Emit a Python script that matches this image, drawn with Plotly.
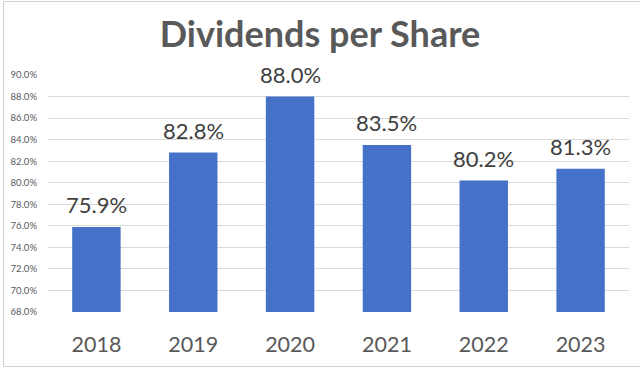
import plotly.graph_objects as go

years = ["2018", "2019", "2020", "2021", "2022", "2023"]
payout = [75.9, 82.8, 88.0, 83.5, 80.2, 81.3]
y_ticks = [68, 70, 72, 74, 76, 78, 80, 82, 84, 86, 88, 90]
title_text = "Dividends per Share"

W, H = 640, 371
L, R, T, B = 46, 11, 75, 59

fig = go.Figure()
fig.add_trace(go.Bar(
    x=years, y=payout,
    marker=dict(color="#4571C8", line=dict(width=0)),
    width=0.5,
    hoverinfo="x+y",
))

# data labels above each bar (x given as category index)
for i, v in enumerate(payout):
    fig.add_annotation(x=i, y=v, text=f"{v:.1f}%", showarrow=False,
                       xanchor="center", yanchor="bottom", yshift=7,
                       font=dict(family="Lato", size=22, color="#404040"))

pw = W - L - R
ph = H - T - B
def px_x(p):
    return (p - L) / pw
def px_y(p):
    return (H - B - p) / ph

fig.update_layout(
    width=W, height=H,
    margin=dict(l=L, r=R, t=T, b=B, pad=0),
    paper_bgcolor="white", plot_bgcolor="white",
    showlegend=False,
    bargap=0.5,
    title=dict(text=f"<b>{title_text}</b>", x=0.5, xanchor="center",
               xref="container", y=1 - 34 / H, yanchor="middle", yref="container",
               font=dict(family="Lato", size=36, color="#595959")),
    xaxis=dict(type="category", range=[-0.5, len(years) - 0.5],
               showgrid=False, showline=False, ticks="",
               tickfont=dict(family="Lato", size=21.5, color="#595959"),
               ticklabelstandoff=17),
    yaxis=dict(range=[68, 90], tickvals=y_ticks,
               ticktext=[f"{v:.1f}%" for v in y_ticks],
               showgrid=True, gridcolor="#D9D9D9", gridwidth=1,
               zeroline=False, showline=False, ticks="",
               tickfont=dict(family="Lato", size=9.5, color="#595959"),
               ticklabelstandoff=10),
    shapes=[dict(type="rect", xref="paper", yref="paper",
                 x0=px_x(1.5), x1=px_x(W + 5), y0=px_y(366.5), y1=px_y(1.5),
                 line=dict(color="#D0D0D0", width=1), layer="below")],
)

fig.write_html("out.html", config={"displayModeBar": False},
               post_script="document.body.style.margin='0';document.body.style.overflow='hidden';")
